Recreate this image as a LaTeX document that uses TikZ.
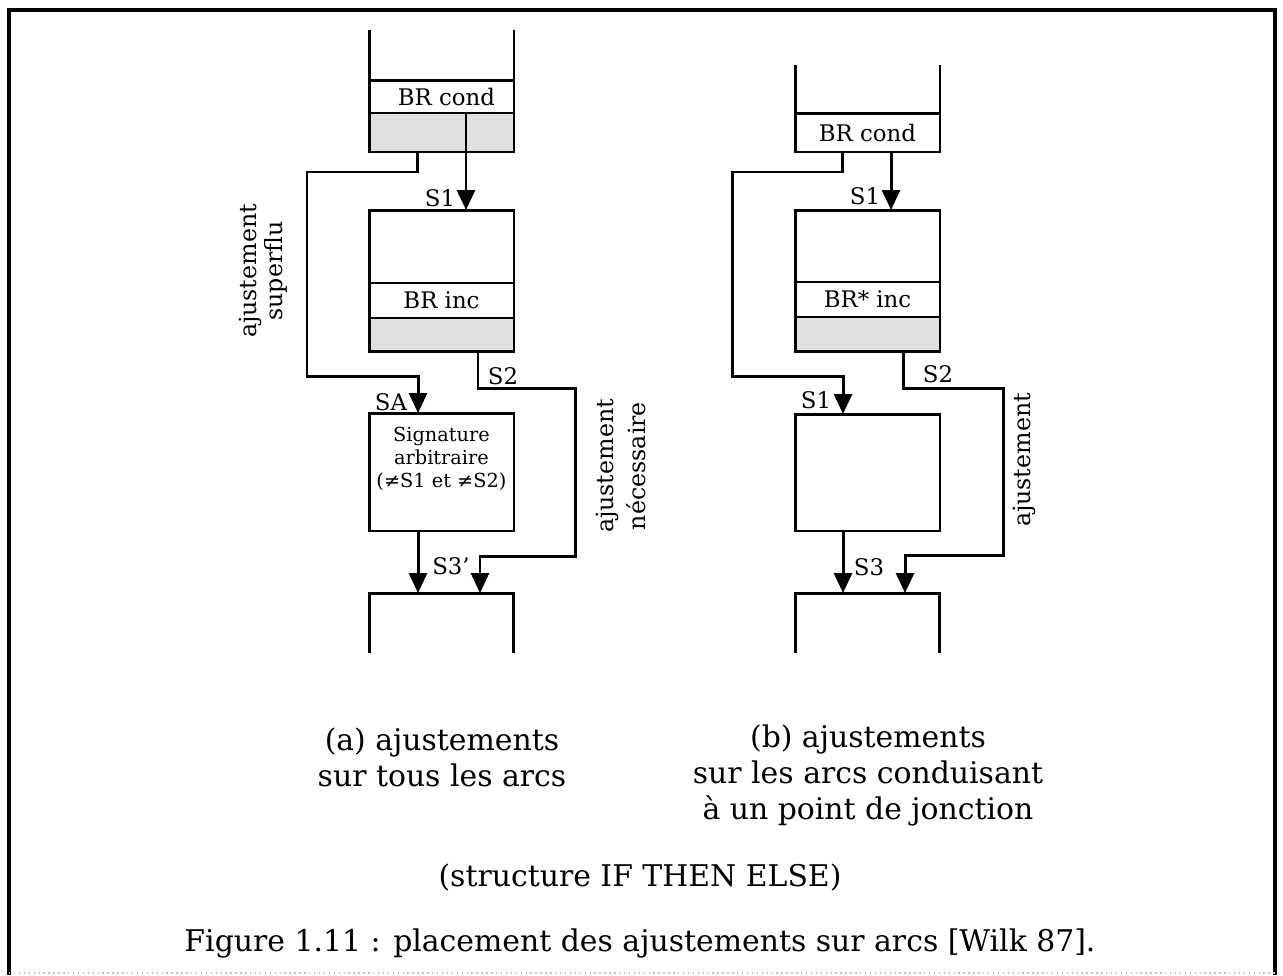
\documentclass[tikz,border=0pt]{standalone}
\usepackage{fontspec}
\setmainfont{DejaVu Serif}
\usepackage{tikz}
\usetikzlibrary{arrows.meta,positioning,calc}

\begin{document}
\begin{tikzpicture}[x=0.02cm, y=-0.02cm,
  wire/.style={line width=1.7pt},
  block/.style={draw, line width=1.7pt, minimum width=2.9cm, inner sep=0pt, outer sep=0pt, font=\fontsize{13}{15}\selectfont},
  dots/.style={block, fill=black!12},
  arr/.style={wire, -{Triangle[length=0.4cm,width=0.36cm]}},
  tag/.style={font=\fontsize{13}{15}\selectfont, inner sep=1pt},
  side/.style={rotate=90, align=center, font=\fontsize{13.5}{16}\selectfont},
  legend/.style={align=center, font=\fontsize{17}{20.5}\selectfont}
]
\useasboundingbox (0,0) rectangle (1283,975);

% ---- frame ----
\draw[line width=2.8pt] (9,975) -- (9,10) -- (1275,10) -- (1275,975);
\draw[gray!50, dotted, line width=0.8pt] (9,973) -- (1275,973);

% ---- Panel (a) ----
\node[block, minimum height=0.66cm] (condA) at (441.5,96.5) {\hspace{0.2cm}BR cond};
\node[dots, minimum height=0.78cm, below=0pt of condA] (shadeA) {};
\node[block, minimum height=1.46cm] (blockA) at (441.5,246.5) {};
\node[block, minimum height=0.7cm, below=0pt of blockA] (incA) {BR inc};
\node[dots, minimum height=0.68cm, below=0pt of incA] (shadeA2) {};
\node[block, minimum height=2.36cm] (sigA) at (441.5,472) {};
\node[font=\fontsize{11}{13.2}\selectfont, align=center] (sigtxt) at (441.5,459) {Signature\\arbitraire\\(≠S1 et ≠S2)};
\coordinate (botA) at (441.5,593);

\draw[wire] (condA.north west) -- ++(0,-50);
\draw[wire] (condA.north east) -- ++(0,-50);
\draw[wire] ($(botA)+(-72,60)$) |- ($(botA)+(72,0)$) -- ++(0,60);

\draw[arr] ([xshift=0.49cm]condA.south) -- ([xshift=0.49cm]blockA.north);
\draw[arr] ([xshift=-0.49cm]shadeA.south) -- ++(0,20) -| (307,376) -| ([xshift=-0.47cm]sigA.north);
\draw[arr] ([xshift=0.73cm]shadeA2.south) -- ++(0,37) -| (575,556) -| ([xshift=0.77cm]botA);
\draw[arr] ([xshift=-0.47cm]sigA.south) -- ([xshift=-0.47cm]botA);

\node[tag] (s1a) at (440,198) {S1};
\node[tag] (saa) at (391,402) {SA};
\node[tag] (s2a) at (503,376) {S2};
\node[tag] (s3a) at (451,566) {S3'};

\node[side, font=\fontsize{13.5}{14.5}\selectfont] (supA) at (263,271) {ajustement\\superflu};
\node[side, font=\fontsize{13.5}{18}\selectfont] (necA) at (621,466) {ajustement\\nécessaire};

% ---- Panel (b) ----
\node[block, minimum height=0.78cm] (condB) at (867.5,132.5) {BR cond};
\node[block, minimum height=1.44cm] (blockB) at (867.5,246) {};
\node[block, minimum height=0.7cm, below=0pt of blockB] (incB) {BR* inc};
\node[dots, minimum height=0.7cm, below=0pt of incB] (shadeB) {};
\node[block, minimum height=2.34cm] (emptyB) at (867.5,472.5) {};
\coordinate (botB) at (867.5,593);

\draw[wire] (condB.north west) -- ++(0,-48);
\draw[wire] (condB.north east) -- ++(0,-48);
\draw[wire] ($(botB)+(-72,60)$) |- ($(botB)+(72,0)$) -- ++(0,60);

\draw[arr] ([xshift=0.47cm]condB.south) -- ([xshift=0.47cm]blockB.north);
\draw[arr] ([xshift=-0.51cm]condB.south) -- ++(0,20) -| (732,376) -| ([xshift=-0.49cm]emptyB.north);
\draw[arr] ([xshift=0.71cm]shadeB.south) -- ++(0,37) -| (1003,555) -| ([xshift=0.75cm]botB);
\draw[arr] ([xshift=-0.49cm]emptyB.south) -- ([xshift=-0.49cm]botB);

\node[tag] (s1b) at (865,196) {S1};
\node[tag] (s1c) at (816,400) {S1};
\node[tag] (s2b) at (938,374) {S2};
\node[tag] (s3b) at (869,567) {S3};

\node[side] (ajB) at (1024,460) {ajustement};

% ---- legends ----
\node[legend] (capA) at (442,757) {(a) ajustements\\sur tous les arcs};
\node[legend] (capB) at (868,775) {(b) ajustements\\sur les arcs conduisant\\à un point de jonction};
\node[legend] (struct) at (640,877) {(structure IF THEN ELSE)};
\node[legend] (fig) at (640,943) {Figure 1.11 : placement des ajustements sur arcs [Wilk 87].};

\end{tikzpicture}
\end{document}
